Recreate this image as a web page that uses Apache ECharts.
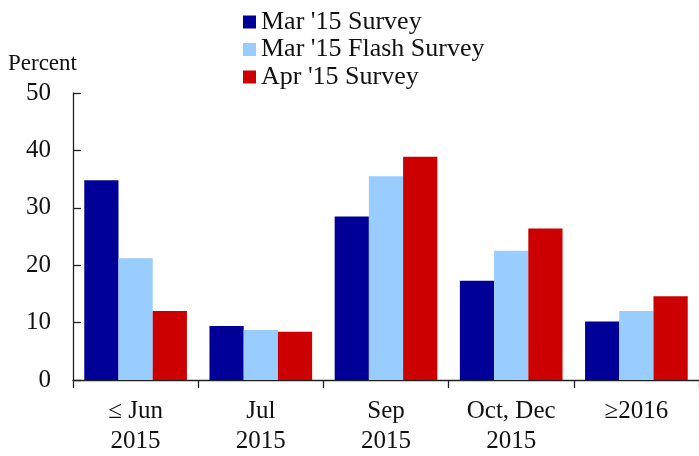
<!DOCTYPE html>
<html><head><meta charset="utf-8">
<script src="https://cdn.jsdelivr.net/npm/echarts@6/dist/echarts.min.js"></script>
<style>html,body{margin:0;padding:0;background:#fff}#c{width:699px;height:456px}</style>
</head><body><div id="c"></div>
<script>
const categories = ['≤ Jun\n2015', 'Jul\n2015', 'Sep\n2015', 'Oct, Dec\n2015', '≥2016'];
const seriesNames = ["Mar '15 Survey", "Mar '15 Flash Survey", "Apr '15 Survey"];
const marSurvey = [34.8, 9.4, 28.5, 17.3, 10.2];
const marFlash = [21.2, 8.7, 35.5, 22.5, 12.0];
const aprSurvey = [12.0, 8.4, 38.9, 26.4, 14.6];
const yTicks = [0, 10, 20, 30, 40, 50];
const colors = ['#000099', '#99CCFF', '#CC0000'];
const font = 'Liberation Serif';
const chart = echarts.init(document.getElementById('c'), null, {renderer: 'canvas'});
const vals = [marSurvey, marFlash, aprSurvey];
chart.setOption({
  animation: false,
  textStyle: {fontFamily: font},
  grid: {left: 73, top: 93, bottom: 74, right: -6, containLabel: false},
  legend: {
    orient: 'vertical', left: 243, top: 9, padding: 0, itemWidth: 13, itemHeight: 13, itemGap: 1.5,
    icon: 'rect',
    textStyle: {fontFamily: font, fontSize: 26, color: '#111'},
    data: seriesNames
  },
  graphic: [{type: 'text', left: 8, top: 52, style: {text: 'Percent', font: '23px "Liberation Serif"', fill: '#111'}}],
  xAxis: {
    type: 'category', data: categories,
    axisLine: {lineStyle: {color: '#222', width: 1.3}},
    axisTick: {show: true, length: 8, lineStyle: {color: '#222', width: 1.3}},
    axisLabel: {fontFamily: font, fontSize: 25, color: '#111', margin: 16, lineHeight: 30}
  },
  yAxis: {
    type: 'value', min: yTicks[0], max: yTicks[yTicks.length-1], interval: 10,
    axisLine: {show: true, lineStyle: {color: '#222', width: 1.3}},
    axisTick: {show: true, inside: true, length: 8, lineStyle: {color: '#222', width: 1.3}},
    splitLine: {show: false},
    axisLabel: {fontFamily: font, fontSize: 25, color: '#111', margin: 22}
  },
  series: seriesNames.map((n, i) => ({
    name: n, type: 'bar', data: vals[i], barGap: '0%', barCategoryGap: '18%',
    itemStyle: {color: colors[i]}
  }))
});
</script></body></html>
